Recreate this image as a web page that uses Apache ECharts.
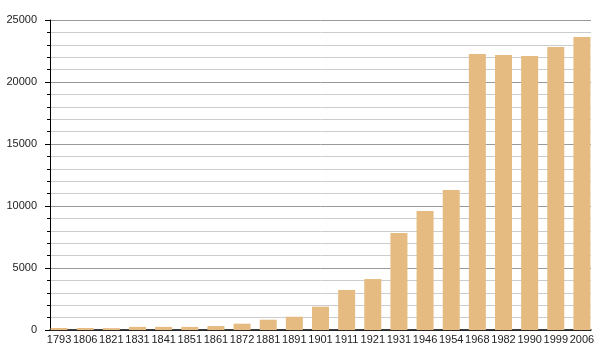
<!DOCTYPE html>
<html><head><meta charset="utf-8">
<script src="https://cdn.jsdelivr.net/npm/echarts@6/dist/echarts.min.js"></script>
<style>html,body{margin:0;padding:0;background:#fff}#c{width:600px;height:360px}</style>
</head><body><div id="c"></div>
<script>
var years = ["1793","1806","1821","1831","1841","1851","1861","1872","1881","1891","1901","1911","1921","1931","1946","1954","1968","1982","1990","1999","2006"];
var population = [160,160,150,250,250,250,320,510,830,1070,1880,3230,4110,7820,9600,11290,22260,22180,22100,22820,23630];
var yTicks = {min:0,max:25000,interval:5000};
var chart = echarts.init(document.getElementById('c'));
chart.setOption({
  animation:false,
  grid:[{left:50,right:9,top:20,bottom:30},{left:46,right:5,top:20,bottom:30}],
  xAxis:[
    {type:'category',gridIndex:0,data:years,
     axisLine:{lineStyle:{color:'#000',width:1.5}},
     axisTick:{show:false},axisLabel:{show:false}},
    {type:'category',gridIndex:1,data:years,
     axisLine:{show:false},axisTick:{show:false},
     axisLabel:{color:'#222',fontFamily:'Liberation Sans',fontSize:11,margin:4,interval:0}}
  ],
  yAxis:[
    {type:'value',gridIndex:0,min:yTicks.min,max:yTicks.max,interval:yTicks.interval,
     axisLine:{show:true,lineStyle:{color:'#000',width:1}},
     axisTick:{show:true,length:5,lineStyle:{color:'#000'}},
     minorTick:{show:true,splitNumber:5,length:3,lineStyle:{color:'#000'}},
     splitLine:{lineStyle:{color:'#999',width:1}},
     minorSplitLine:{show:true,lineStyle:{color:'#ccc',width:1}},
     axisLabel:{color:'#222',fontFamily:'Liberation Sans',fontSize:11,margin:13,formatter:function(v){return String(v);}}},
    {type:'value',gridIndex:1,min:yTicks.min,max:yTicks.max,interval:yTicks.interval,show:false,splitLine:{show:false}}
  ],
  series:[{type:'bar',xAxisIndex:1,yAxisIndex:1,data:population,barWidth:17,itemStyle:{color:'#e6bb82'}}]
});
</script></body></html>
